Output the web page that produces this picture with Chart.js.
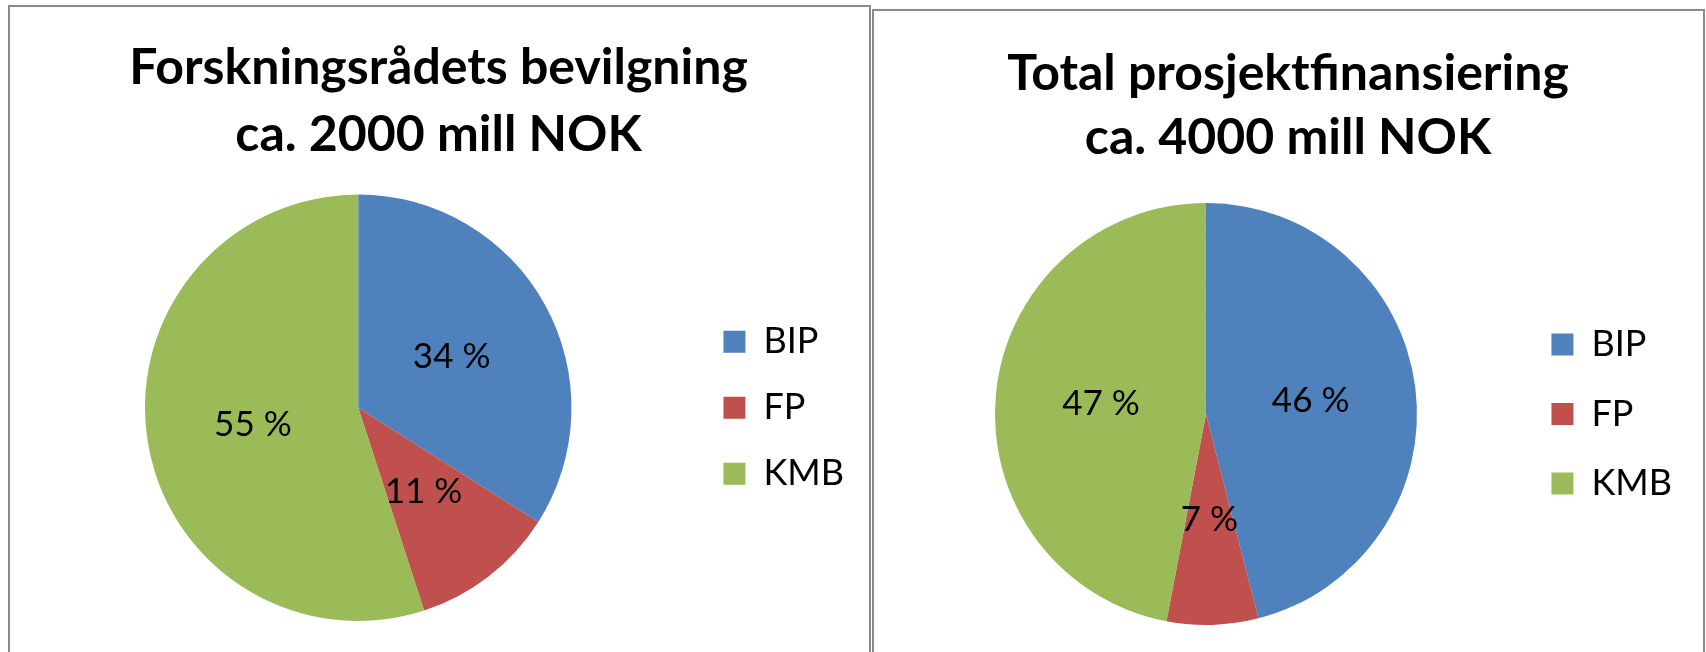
<!DOCTYPE html>
<html>
<head>
<meta charset="utf-8">
<script src="https://cdn.jsdelivr.net/npm/chart.js@4.4.1/dist/chart.umd.min.js"></script>
<style>
  html, body { margin: 0; padding: 0; background: #fff; }
  body { width: 1706px; height: 652px; overflow: hidden; position: relative; }
  .panel { position: absolute; border: 2px solid #8a8a8a; background: #fff; }
  #panelLeft { left: 8px; top: 5px; width: 859px; height: 700px; }
  #panelRight { left: 872px; top: 9px; width: 829px; height: 700px; }
  canvas { display: block; }
</style>
</head>
<body>
<div class="panel" id="panelLeft"><canvas id="chartLeft" width="858" height="645"></canvas></div>
<div class="panel" id="panelRight"><canvas id="chartRight" width="829" height="641"></canvas></div>
<script>
const categories = ['BIP', 'FP', 'KMB'];
const colors = ['#4F81BD', '#C0504D', '#9BBB59'];

const leftTitle = ['Forskningsrådets bevilgning', 'ca. 2000 mill NOK'];
const leftValues = [34, 11, 55];

const rightTitle = ['Total prosjektfinansiering', 'ca. 4000 mill NOK'];
const rightValues = [46, 7, 47];

// percent labels in the middle of each slice
const sliceLabels = {
  id: 'sliceLabels',
  afterDatasetsDraw(chart) {
    const ctx = chart.ctx;
    const meta = chart.getDatasetMeta(0);
    const values = chart.data.datasets[0].data;
    ctx.save();
    ctx.font = '35px Lato';
    ctx.fillStyle = '#000';
    ctx.textAlign = 'center';
    ctx.textBaseline = 'middle';
    meta.data.forEach(function drawLabel(arc, i) {
      const pos = arc.tooltipPosition();
      ctx.fillText(`${values[i]} %`, pos.x, pos.y);
    });
    ctx.restore();
  },
};

function makePie(canvasId, title, values, cfg) {
  const ctx = document.getElementById(canvasId).getContext('2d');
  return new Chart(ctx, {
    type: 'pie',
    data: {
      labels: categories,
      datasets: [{
        data: values,
        backgroundColor: colors,
        borderWidth: 0,
      }],
    },
    options: {
      responsive: false,
      animation: false,
      devicePixelRatio: 1,
      layout: { padding: cfg.padding },
      plugins: {
        title: {
          display: true,
          text: title,
          color: '#000',
          font: { family: 'Lato', size: 50, weight: 'bold', lineHeight: cfg.titleLine },
          padding: cfg.titlePadding,
        },
        legend: {
          position: 'right',
          fullSize: false,
          labels: {
            color: '#000',
            font: { family: 'Lato', size: 36 },
            boxWidth: 22,
            boxHeight: 22,
            padding: cfg.legendPad,
          },
        },
        tooltip: { enabled: false },
      },
    },
    plugins: [sliceLabels],
  });
}

makePie('chartLeft', leftTitle, leftValues, {
  padding: { left: 13, right: 14, top: 0, bottom: 31 },
  titleLine: '67px',
  titlePadding: { top: 27, bottom: 26.5 },
  legendPad: 30,
});

makePie('chartRight', rightTitle, rightValues, {
  padding: { left: 20, right: 21, top: 0, bottom: 27 },
  titleLine: '64px',
  titlePadding: { top: 31, bottom: 33 },
  legendPad: 33.5,
});
</script>
</body>
</html>
